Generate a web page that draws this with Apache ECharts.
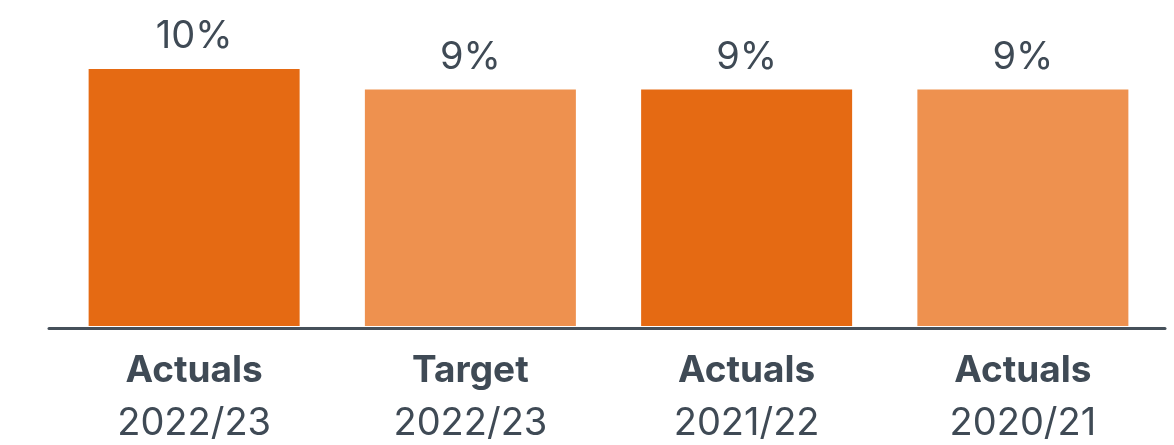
<!DOCTYPE html>
<html lang="en">
<head>
    <meta charset="UTF-8"/>
    <title>Actuals vs target</title>
    <style>
        * { padding: 0; margin: 0; }
        body { background: #fff; overflow: hidden; }
        #chart { width: 1174px; height: 445px; }
    </style>
    <script src="https://cdn.jsdelivr.net/npm/echarts@6/dist/echarts.min.js"></script>
</head>
<body>
<div id="chart"></div>
<script>
    const kinds = ["Actuals", "Target", "Actuals", "Actuals"];
    const years = ["2022/23", "2022/23", "2021/22", "2020/21"];
    const values = [10, 9.2, 9.2, 9.2];
    const valueLabels = ["10%", "9%", "9%", "9%"];
    const barColors = ["#E56A13", "#EE914F", "#E56A13", "#EE914F"];

    const textColor = "#3F4A55";
    const font = "Inter, 'Open Sans', sans-serif";

    const myChart = echarts.init(document.getElementById("chart"));

    const categories = kinds.map((k, i) => k + "\n" + years[i]);

    myChart.setOption({
        animation: false,
        grid: [
            {left: 56, right: 13, top: 69, bottom: 119},
            {left: 49, right: 9, top: 69, bottom: 117}
        ],
        xAxis: [
            {
                type: "category",
                gridIndex: 0,
                data: categories,
                axisLine: {show: false},
                axisTick: {show: false},
                axisLabel: {
                    margin: 18,
                    formatter: function (val) {
                        const parts = val.split("\n");
                        return "{b|" + parts[0] + "}\n{y|" + parts[1] + "}";
                    },
                    rich: {
                        b: {fontFamily: font, fontWeight: "bold", fontSize: 37, color: textColor, lineHeight: 53},
                        y: {fontFamily: font, fontSize: 38, color: textColor, lineHeight: 53}
                    }
                }
            },
            {
                type: "category",
                gridIndex: 1,
                data: [""],
                axisLine: {show: true, lineStyle: {color: "#46505A", width: 3}},
                axisTick: {show: false},
                axisLabel: {show: false}
            }
        ],
        yAxis: [
            {type: "value", gridIndex: 0, min: 0, max: 10, show: false},
            {type: "value", gridIndex: 1, show: false}
        ],
        series: [
            {
                type: "bar",
                xAxisIndex: 0,
                yAxisIndex: 0,
                barWidth: 211,
                data: values.map((v, i) => ({value: v, itemStyle: {color: barColors[i]}})),
                label: {
                    show: true,
                    position: "top",
                    distance: 13,
                    fontFamily: font,
                    fontSize: 38,
                    color: textColor,
                    formatter: p => valueLabels[p.dataIndex]
                }
            }
        ]
    });
</script>
</body>
</html>
